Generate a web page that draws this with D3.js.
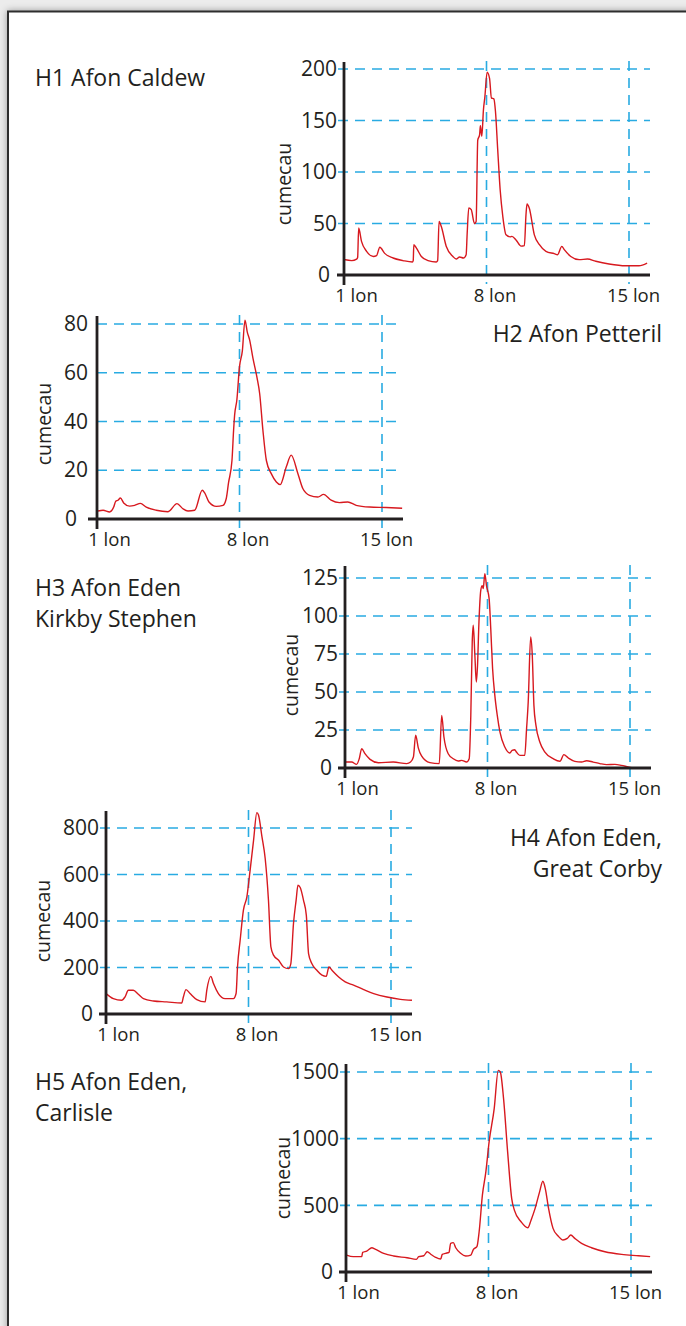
<!DOCTYPE html>
<html><head><meta charset="utf-8">
<script src="https://cdn.jsdelivr.net/npm/d3@7"></script>
<style>
html,body{margin:0;padding:0;background:#ebebeb;overflow:hidden;}
svg{display:block;}
text{font-family:"Open Sans",sans-serif;fill:#231f20;}
</style></head><body>
<svg id="c" width="686" height="1326"></svg>
<script>
// ---------------- DATA ----------------
const xTickDays = [1, 8, 15];
const xTickLabels = ["1 lon", "8 lon", "15 lon"];
const yLabel = "cumecau";
const titles = [
  ["H1 Afon Caldew"],
  ["H2 Afon Petteril"],
  ["H3 Afon Eden", "Kirkby Stephen"],
  ["H4 Afon Eden,", "Great Corby"],
  ["H5 Afon Eden,", "Carlisle"]
];
const h1Ticks = [0, 50, 100, 150, 200];
const h2Ticks = [0, 20, 40, 60, 80];
const h3Ticks = [0, 25, 50, 75, 100, 125];
const h4Ticks = [0, 200, 400, 600, 800];
const h5Ticks = [0, 500, 1000, 1500];

const h1Flow = [[1.0,15],[1.38,14],[1.62,15.5],[1.67,17],[1.72,45.6],[1.86,32.7],[2.11,23],[2.44,18],[2.6,18.8],[2.76,27],[3.0,21],[3.41,16.5],[3.9,14],[4.36,12.6],[4.40,14],[4.43,29.4],[4.56,26],[4.8,18],[5.13,14],[5.53,12.6],[5.60,14],[5.67,52],[5.78,47],[6.02,28],[6.35,18],[6.51,15.5],[6.68,17.5],[6.87,16.5],[7.0,19.7],[7.05,40],[7.13,65],[7.25,63.4],[7.41,50],[7.49,52],[7.57,131],[7.66,136],[7.70,145],[7.77,134.6],[7.85,160.5],[7.92,173],[8.03,197],[8.15,191],[8.24,172],[8.36,171],[8.44,159],[8.55,122],[8.67,83],[8.8,57],[8.96,39],[9.16,37],[9.25,37.5],[9.45,34],[9.7,28],[9.86,28.5],[9.94,58.6],[9.99,69],[10.1,65],[10.35,39],[10.6,29.4],[10.92,23],[11.33,20.7],[11.49,19.7],[11.7,27.8],[11.82,24.6],[12.14,18],[12.55,14.9],[12.96,15.5],[13.37,13.3],[14.02,10.7],[14.83,9],[15.49,9],[15.89,11.6]];

const h2Flow = [[1.05,3.3],[1.3,3.6],[1.62,2.9],[1.82,4.9],[1.92,7.3],[2.03,7.7],[2.15,8.6],[2.31,6.6],[2.6,5.3],[2.85,5.6],[3.13,6.4],[3.42,4.9],[3.91,3.6],[4.49,3.0],[4.93,6.3],[5.22,4.2],[5.47,3.3],[5.8,3.6],[6.17,11.8],[6.29,10.7],[6.5,7],[6.86,5.2],[7.19,5.6],[7.35,8.4],[7.46,14.8],[7.63,24],[7.71,36.4],[7.76,42.6],[7.87,48.8],[8.0,62.5],[8.14,69],[8.27,81.6],[8.38,76.8],[8.5,73.4],[8.66,66],[8.86,58],[8.99,51.5],[9.15,36.4],[9.32,24],[9.56,18.6],[9.81,15.2],[10.0,14.1],[10.3,21.4],[10.54,26.2],[10.87,18.6],[11.11,12.5],[11.44,9.7],[11.85,9],[12.13,10.1],[12.5,7.7],[12.91,6.7],[13.32,7],[13.73,5.6],[14.39,4.9],[15.2,4.7],[15.99,4.4]];

const h3Flow = [[1.03,3.9],[1.33,3.9],[1.57,2.4],[1.7,6.1],[1.82,12.7],[1.98,9.4],[2.23,5.7],[2.64,3.5],[3.37,3.9],[4.03,2.9],[4.22,3.9],[4.36,7.2],[4.47,21.5],[4.6,13.2],[4.76,7.9],[5.17,3.5],[5.63,2.9],[5.75,34.6],[5.86,20.4],[6.07,9.4],[6.32,6.1],[6.56,4.6],[6.73,5],[6.97,3.9],[7.1,6.1],[7.18,34.6],[7.25,82.9],[7.3,93.9],[7.38,74],[7.45,56.6],[7.51,67.5],[7.58,96],[7.67,116.9],[7.74,120],[7.79,118],[7.87,127.9],[7.95,120],[8.08,111.4],[8.16,91.7],[8.25,65.4],[8.36,47.8],[8.48,34.6],[8.61,23.7],[8.85,13.8],[9.1,9.9],[9.21,11.6],[9.34,12],[9.42,10.5],[9.59,8.3],[9.83,8.3],[9.92,25.9],[10.0,43.4],[10.12,86.2],[10.2,74],[10.28,41.2],[10.38,28],[10.57,17.1],[10.82,10.5],[11.23,6.1],[11.56,4.4],[11.75,8.8],[11.97,6.6],[12.29,4.4],[12.62,3.9],[12.87,4.8],[13.19,3.9],[13.52,2.9],[13.85,2.2],[14.26,2.4],[14.58,1.75],[14.91,0.7],[15.16,0]];

const h4Flow = [[1.0,87.6],[1.36,66],[1.77,59],[1.93,73],[2.1,102],[2.34,102],[2.59,85],[2.84,66],[3.33,56],[3.98,52],[4.72,47],[4.8,73],[4.93,105],[5.13,88],[5.46,62],[5.87,52],[5.95,102],[6.15,162],[6.28,131],[6.52,88],[6.85,66],[7.26,66],[7.39,88],[7.46,202],[7.59,317],[7.75,447],[7.92,504],[8.08,619],[8.25,748],[8.41,866],[8.49,856],[8.66,763],[8.82,669],[8.98,490],[9.1,289],[9.23,253],[9.48,231],[9.72,202],[9.97,195],[10.08,217],[10.21,389],[10.34,490],[10.43,554],[10.54,544],[10.7,490],[10.84,425],[10.95,260],[11.11,217],[11.36,188],[11.61,167],[11.82,162],[11.95,202],[12.1,188],[12.43,159],[12.75,138],[13.16,124],[13.66,105],[14.15,88],[14.8,73],[15.46,63],[16.03,59]];

const h5Flow = [[1.03,127],[1.36,115],[1.77,115],[1.82,147],[2.02,157],[2.27,182],[2.43,172],[2.85,140],[3.34,120],[4.0,107],[4.46,95],[4.57,115],[4.82,122],[4.99,152],[5.15,135],[5.4,110],[5.65,97],[5.73,132],[5.89,140],[6.06,147],[6.14,215],[6.27,220],[6.39,182],[6.63,140],[6.88,120],[7.13,127],[7.26,170],[7.43,190],[7.54,302],[7.7,576],[7.87,751],[8.03,976],[8.28,1225],[8.48,1512],[8.58,1500],[8.74,1300],[8.94,901],[9.14,551],[9.27,464],[9.6,377],[9.93,332],[10.09,389],[10.29,477],[10.51,601],[10.67,681],[10.79,626],[10.95,477],[11.17,327],[11.42,270],[11.66,240],[11.87,252],[12.04,277],[12.24,252],[12.57,215],[13.06,182],[13.72,152],[14.54,132],[15.37,122],[15.94,115]];

// ---------------- LAYOUT ----------------
const BLUE = "#29abe2", RED = "#d7191f", INK = "#231f20";
const layout = [
  {ax:344, base:275,  yTop:69,   top:61,   lead:6, gap:7,  zeroGap:14, labX:291, labY:184,
   title:{x:35,  y:86,   anchor:"start"}},
  {ax:97,  base:519,  yTop:324,  top:315,  lead:0, gap:9,  zeroGap:20, labX:51,  labY:424,
   title:{x:662, y:342,  anchor:"end"}},
  {ax:345, base:768,  yTop:578,  top:565,  lead:6, gap:7,  zeroGap:13, labX:298, labY:675,
   title:{x:35,  y:596,  anchor:"start"}},
  {ax:106, base:1014, yTop:828,  top:810,  lead:6, gap:7,  zeroGap:13, labX:50,  labY:921,
   title:{x:662, y:846,  anchor:"end"}},
  {ax:346, base:1272, yTop:1072, top:1063, lead:6, gap:7,  zeroGap:13, labX:290, labY:1178,
   title:{x:35,  y:1090, anchor:"start"}}
];
const xLabelDx = [12, 8, 4];
const flows = [h1Flow, h2Flow, h3Flow, h4Flow, h5Flow];
const tickSets = [h1Ticks, h2Ticks, h3Ticks, h4Ticks, h5Ticks];

const svg = d3.select("#c");
const defs = svg.append("defs");
const f = defs.append("filter").attr("id","sh").attr("x","-5%").attr("y","-5%").attr("width","110%").attr("height","110%");
f.append("feDropShadow").attr("dx",0).attr("dy",0).attr("stdDeviation",3.5)
  .attr("flood-color","#000").attr("flood-opacity",0.35);

svg.append("rect").attr("x",0).attr("y",0).attr("width",686).attr("height",1326).attr("fill","#ececec");
svg.append("rect").attr("x",8).attr("y",11.5).attr("width",720).attr("height",1400)
  .attr("fill","#fff").attr("stroke","#2e2e2e").attr("stroke-width",2).attr("filter","url(#sh)");

layout.forEach((p, i) => {
  const flow = flows[i], ticks = tickSets[i];
  const x = d3.scaleLinear().domain([1, 15]).range([p.ax, p.ax + 285]);
  const xEnd = p.ax + 306;
  const y = d3.scaleLinear().domain([0, d3.max(ticks)]).range([p.base, p.yTop]);
  const g = svg.append("g");

  // horizontal gridlines
  g.selectAll(".hg").data(ticks.filter(t => t > 0)).join("line")
    .attr("x1", p.ax - p.lead).attr("x2", xEnd)
    .attr("y1", d => y(d)).attr("y2", d => y(d))
    .attr("stroke", BLUE).attr("stroke-width", 1.6).attr("stroke-dasharray", "10,7");
  // vertical gridlines
  g.selectAll(".vg").data(xTickDays.slice(1)).join("line")
    .attr("x1", d => x(d)).attr("x2", d => x(d))
    .attr("y1", p.top).attr("y2", p.base + 9)
    .attr("stroke", BLUE).attr("stroke-width", 1.6).attr("stroke-dasharray", "10,7");

  // data line
  g.append("path").datum(flow)
    .attr("d", d3.line().x(d => x(d[0])).y(d => y(d[1])).curve(d3.curveMonotoneX))
    .attr("fill", "none").attr("stroke", RED).attr("stroke-width", 1.4).attr("stroke-linejoin","round");

  // y axis labels
  const ya = g.append("g").attr("transform", `translate(${p.ax},0)`)
    .call(d3.axisLeft(y).tickValues(ticks).tickFormat(d3.format("d")).tickSize(0).tickPadding(p.gap));
  ya.select(".domain").remove();
  ya.selectAll("text").attr("font-size", 21).attr("font-family", '"Open Sans",sans-serif')
    .attr("fill", INK)
    .attr("x", d => d === 0 ? -p.zeroGap : -p.gap);

  // x axis labels
  const xa = g.append("g").attr("transform", `translate(0,${p.base})`)
    .call(d3.axisBottom(x).tickValues(xTickDays).tickFormat((d, k) => xTickLabels[k]).tickSize(0).tickPadding(13.5));
  xa.select(".domain").remove();
  xa.selectAll("text").attr("font-size", 18.5).attr("font-family", '"Open Sans",sans-serif')
    .attr("fill", INK).attr("dx", (d, k) => xLabelDx[k]);

  // black axis lines
  g.append("line").attr("x1", p.ax).attr("x2", p.ax).attr("y1", p.top + 1).attr("y2", p.base + 10)
    .attr("stroke", INK).attr("stroke-width", 2.8);
  g.append("line").attr("x1", p.ax - (i === 1 ? 9 : 7)).attr("x2", xEnd).attr("y1", p.base).attr("y2", p.base)
    .attr("stroke", INK).attr("stroke-width", 2.8);

  // y label
  g.append("text").attr("transform", `translate(${p.labX},${p.labY}) rotate(-90)`)
    .attr("text-anchor", "middle").attr("font-size", 19.5).text(yLabel);

  // title
  const t = svg.append("text").attr("x", p.title.x).attr("y", p.title.y)
    .attr("text-anchor", p.title.anchor).attr("font-size", 23);
  titles[i].forEach((line, k) => {
    t.append("tspan").attr("x", p.title.x).attr("dy", k === 0 ? 0 : 31).text(line);
  });
});
</script>
</body></html>
